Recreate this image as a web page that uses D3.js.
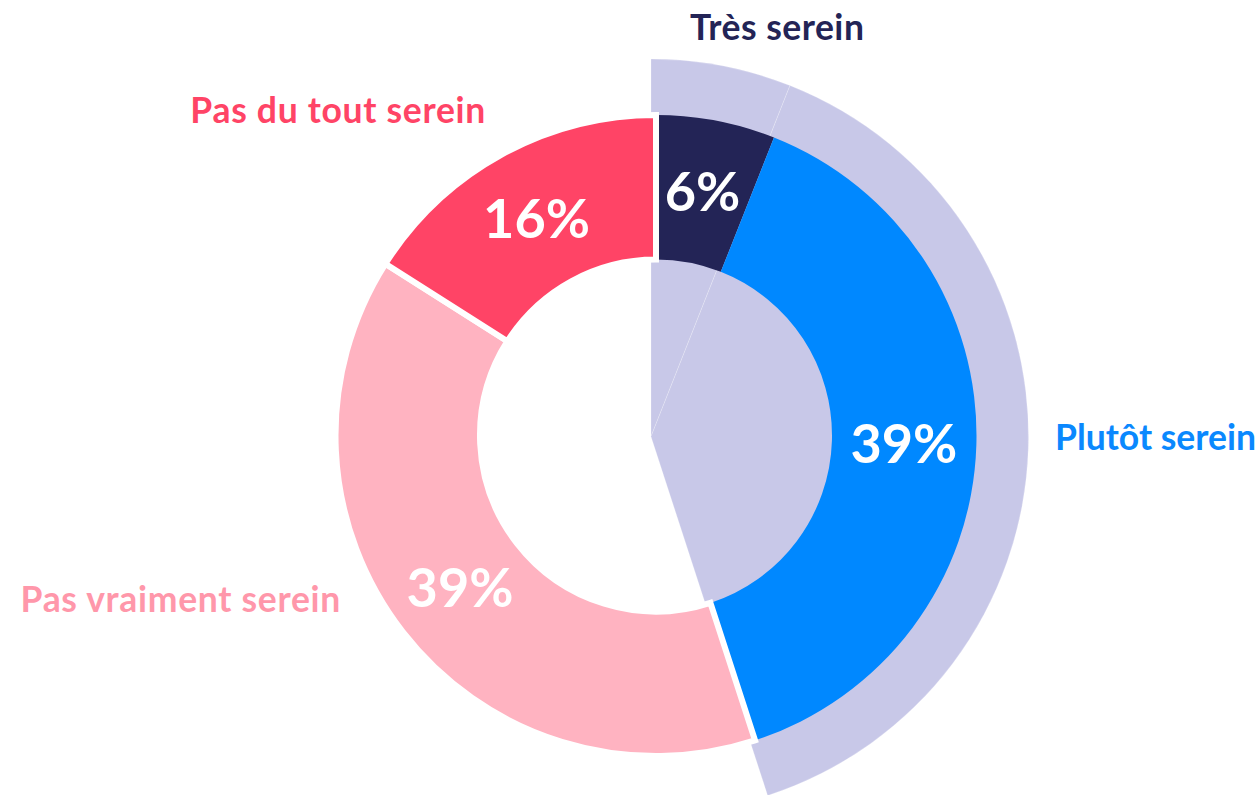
<!DOCTYPE html>
<html>
<head>
<meta charset="utf-8">
<script src="https://cdn.jsdelivr.net/npm/d3@7"></script>
<style>
    html, body { margin: 0; padding: 0; background: #fff; }
    svg { display: block; }
    text { font-family: Lato, "Open Sans", sans-serif; font-weight: 700; }
</style>
</head>
<body>
<svg id="chart" width="1260" height="795"></svg>
<script>
const categories = ["Très serein", "Plutôt serein", "Pas vraiment serein", "Pas du tout serein"];
const values = [6, 39, 39, 16];
const serein = [true, true, false, false];

const fills = ["#232456", "#0088ff", "#ffb3c1", "#ff4466"];
const labelColors = ["#232456", "#0a88fe", "#ff97aa", "#ff4466"];

// where each category name sits, placed by hand like in the original
const labelLayout = [
    { x: 690, y: 40, anchor: "start", spacing: 0.5 },
    { x: 1256, y: 450, anchor: "end", spacing: 0 },
    { x: 341, y: 612, anchor: "end", spacing: 0.7 },
    { x: 486, y: 123, anchor: "end", spacing: 0.7 }
];

const width = 1260, height = 795;
const center = { x: 656, y: 435.5 };
const bgCenter = { x: 651, y: 436.5 };
const outerR = 320.5, innerR = 176, bgR = 377.5;

const svg = d3.select("#chart").attr("viewBox", `0 0 ${width} ${height}`);

const pie = d3.pie().sort(null).value(d => d.value);
const data = categories.map((c, i) => ({ name: c, value: values[i], serein: serein[i], i }));
const arcs = pie(data);

// lavender backdrop behind the "serein" answers
const bgArc = d3.arc().innerRadius(0).outerRadius(bgR);
svg.append("g")
    .attr("transform", `translate(${bgCenter.x}, ${bgCenter.y})`)
    .selectAll("path")
    .data(arcs.filter(d => d.data.serein))
    .join("path")
        .attr("d", bgArc)
        .attr("fill", "#c8c8e8")
        .attr("stroke", "rgba(255,255,255,0.35)")
        .attr("stroke-width", 0.6);

const arc = d3.arc().innerRadius(innerR).outerRadius(outerR);
const ring = svg.append("g")
    .attr("transform", `translate(${center.x}, ${center.y})`);

// serein slices first, the others on top with their white outline
ring.selectAll("path")
    .data(arcs.slice().sort((a, b) => (b.data.serein ? 1 : 0) - (a.data.serein ? 1 : 0)))
    .join("path")
        .attr("d", arc)
        .attr("fill", d => fills[d.data.i])
        .attr("stroke", d => d.data.serein ? "none" : "#fff")
        .attr("stroke-width", 6)
        .attr("stroke-linejoin", "miter");

const labelArc = d3.arc().innerRadius(248).outerRadius(248);
ring.selectAll("text.pct")
    .data(arcs)
    .join("text")
        .attr("class", "pct")
        .attr("transform", d => `translate(${labelArc.centroid(d)})`)
        .attr("text-anchor", "middle")
        .attr("dy", "0.36em")
        .attr("fill", "#fff")
        .attr("font-size", 54)
        .text(d => d.data.value + "%");

svg.selectAll("text.cat")
    .data(data)
    .join("text")
        .attr("class", "cat")
        .attr("x", d => labelLayout[d.i].x)
        .attr("y", d => labelLayout[d.i].y)
        .attr("text-anchor", d => labelLayout[d.i].anchor)
        .attr("fill", d => labelColors[d.i])
        .attr("font-size", 35.5)
        .attr("letter-spacing", d => labelLayout[d.i].spacing)
        .text(d => d.name);
</script>
</body>
</html>
